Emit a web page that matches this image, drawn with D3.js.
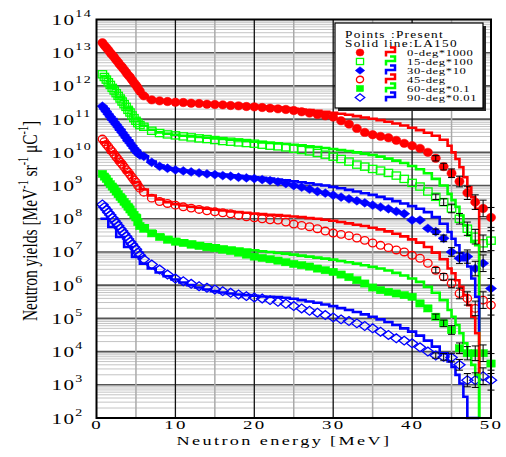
<!DOCTYPE html>
<html>
<head>
<meta charset="utf-8">
<script src="https://cdn.jsdelivr.net/npm/d3@7"></script>
<style>
body { margin: 0; background: #fff; }
svg text { font-family: "Liberation Serif", "Times New Roman", serif; fill: #000; }
</style>
</head>
<body>
<div id="canvas"></div>
<script>
// energies (MeV) of the measured points
const ptE = [0.75,1,1.25,1.5,1.75,2,2.25,2.5,2.75,3,3.25,3.5,3.75,4,4.25,4.5,4.75,5,5.25,5.5,
  6,7,8,9,10,11,12,13,14,15,16,17,18,19,20,21,22,23,24,25,26,27,28,29,30,
  31,32,33,34,35,36,37,38,39,40,41,42,43,44,45,46,47,48,49,50];

// measured yields, log10 values (already multiplied by the factor in the legend)
const deg0Pts = [13.30,13.22,13.15,13.08,13.00,12.93,12.86,12.78,12.71,12.63,12.56,12.49,12.41,12.33,12.26,12.18,12.10,12.02,11.93,11.84,
  11.70,11.58,11.55,11.53,11.51,11.50,11.48,11.47,11.45,11.44,11.43,11.41,11.40,11.38,11.37,11.35,11.33,11.31,11.29,11.26,
  11.22,11.18,11.14,11.10,11.06,10.95,10.85,10.72,10.60,10.53,10.48,10.44,10.36,10.27,10.20,10.12,10.00,9.82,9.57,9.37,
  9.12,8.78,8.50,8.31,8.04];
const deg15Pts = [12.35,12.27,12.19,12.11,12.03,11.94,11.86,11.78,11.70,11.62,11.53,11.45,11.37,11.28,11.20,11.11,11.03,10.95,10.88,10.82,
  10.77,10.65,10.58,10.54,10.51,10.48,10.45,10.42,10.40,10.37,10.34,10.32,10.30,10.28,10.26,10.23,10.20,10.18,10.15,10.11,
  10.07,10.03,9.98,9.93,9.87,9.80,9.72,9.63,9.57,9.50,9.45,9.38,9.30,9.20,9.08,8.97,8.82,8.66,8.50,8.31,
  8.00,7.70,7.46,7.26,7.34];
const deg30Pts = [11.39,11.31,11.23,11.15,11.07,10.99,10.91,10.84,10.76,10.68,10.60,10.52,10.44,10.36,10.28,10.20,10.12,10.04,9.97,9.92,
  9.88,9.70,9.58,9.52,9.47,9.44,9.41,9.38,9.35,9.33,9.30,9.28,9.25,9.23,9.21,9.18,9.15,9.11,9.06,9.00,
  8.95,8.89,8.82,8.77,8.71,8.65,8.60,8.54,8.48,8.41,8.35,8.30,8.22,8.15,7.96,7.96,7.71,7.61,7.41,7.00,
  6.81,6.86,6.50,6.66,5.90];
const deg45Pts = [10.40,10.32,10.24,10.17,10.09,10.02,9.94,9.86,9.79,9.71,9.64,9.56,9.48,9.41,9.33,9.25,9.17,9.10,9.00,8.92,
  8.80,8.62,8.52,8.46,8.41,8.36,8.32,8.28,8.24,8.21,8.18,8.15,8.10,8.06,8.03,8.00,7.97,7.96,7.90,7.84,
  7.80,7.76,7.70,7.63,7.57,7.53,7.49,7.42,7.35,7.27,7.20,7.13,7.06,7.00,6.90,6.81,6.66,6.45,6.25,6.05,
  5.75,5.60,5.30,5.55,5.40];
const deg60Pts = [9.35,9.27,9.20,9.12,9.04,8.97,8.89,8.82,8.74,8.66,8.59,8.51,8.44,8.36,8.28,8.20,8.12,8.04,7.90,7.78,
  7.70,7.56,7.45,7.37,7.31,7.27,7.22,7.18,7.14,7.11,7.07,7.03,6.98,6.92,6.86,6.82,6.78,6.74,6.69,6.64,
  6.60,6.56,6.50,6.45,6.40,6.32,6.24,6.15,6.05,5.93,5.85,5.80,5.75,5.70,5.65,5.45,5.30,5.05,4.85,4.65,
  4.10,3.95,3.95,3.95,3.64];
const deg90Pts = [8.43,8.35,8.27,8.19,8.11,8.03,7.95,7.87,7.79,7.71,7.63,7.55,7.47,7.39,7.31,7.23,7.15,7.08,6.98,6.90,
  6.78,6.62,6.47,6.32,6.20,6.12,6.04,5.97,5.92,5.87,5.82,5.77,5.72,5.67,5.63,5.60,5.55,5.50,5.44,5.37,
  5.30,5.23,5.17,5.10,5.03,4.97,4.92,4.85,4.77,4.70,4.60,4.50,4.40,4.33,4.25,4.13,4.00,3.88,3.84,3.82,
  3.60,3.14,3.14,3.26,3.14];

// error bars (log10 half-size) of the high-energy points
const errE = [43,44,45,46,47,48,49,50];
const errLog = [0.08,0.10,0.13,0.16,0.20,0.22,0.25,0.30];

// LA150 histogram bin edges (MeV)
const binE = [0.5,1.5,2.5,3.5,4.5,5.5,6.5,7.5,8.5,9.5,10.5,11.5,12.5,13.5,14.5,15.5,16.5,17.5,18.5,19.5,
  20.5,21.5,22.5,23.5,24.5,25.5,26.5,27.5,28.5,29.5,30.5,31.5,32.5,33.5,34.5,35.5,36.5,37.5,38.5,39.5,
  40.5,41.5,42.5,43.5,44.5,45,45.5,46,46.5,47,47.5,48,48.5];

// LA150 values per bin, log10
const deg0Calc = [13.20,12.93,12.63,12.33,12.02,11.70,11.58,11.55,11.53,11.51,11.50,11.49,11.48,11.47,11.46,11.45,11.44,11.43,11.41,11.40,
  11.38,11.37,11.35,11.33,11.31,11.29,11.27,11.25,11.22,11.19,11.16,11.13,11.09,11.05,11.01,10.97,10.92,10.87,10.81,10.74,
  10.67,10.59,10.50,10.38,10.20,10.00,9.80,9.55,9.25,8.95,8.65,8.30];
const deg15Calc = [12.30,11.98,11.66,11.33,11.00,10.80,10.68,10.60,10.56,10.53,10.50,10.48,10.46,10.44,10.42,10.40,10.38,10.36,10.34,10.32,
  10.30,10.28,10.27,10.25,10.23,10.21,10.18,10.16,10.13,10.10,10.07,10.04,10.00,9.96,9.92,9.87,9.81,9.75,9.68,9.59,
  9.49,9.37,9.20,9.00,8.75,8.56,8.36,8.10,7.80,7.50,7.30,7.20];
const deg30Calc = [11.30,11.00,10.68,10.36,10.05,9.88,9.72,9.60,9.53,9.48,9.45,9.42,9.40,9.37,9.35,9.33,9.31,9.29,9.27,9.25,
  9.23,9.21,9.18,9.16,9.13,9.10,9.07,9.03,9.00,8.96,8.92,8.87,8.82,8.77,8.72,8.66,8.60,8.53,8.46,8.38,
  8.30,8.20,8.05,7.85,7.60,7.40,7.20,6.96,6.75,6.56,6.20,5.65];
const deg45Calc = [10.30,10.00,9.70,9.40,9.10,8.88,8.70,8.58,8.50,8.44,8.40,8.36,8.33,8.30,8.27,8.25,8.22,8.20,8.18,8.16,
  8.14,8.12,8.11,8.09,8.07,8.05,8.02,8.00,7.97,7.94,7.90,7.86,7.82,7.78,7.73,7.68,7.62,7.55,7.47,7.38,
  7.28,7.15,6.98,6.78,6.50,6.36,6.15,5.95,5.70,5.40,5.05,4.55];
const deg60Calc = [9.30,9.00,8.70,8.40,8.10,7.80,7.62,7.52,7.45,7.39,7.35,7.31,7.27,7.23,7.20,7.16,7.13,7.10,7.07,7.05,
  7.02,7.00,6.97,6.95,6.92,6.89,6.86,6.83,6.80,6.77,6.73,6.69,6.65,6.60,6.55,6.50,6.44,6.37,6.29,6.20,
  6.10,5.95,5.77,5.55,5.25,5.05,4.80,4.55,4.25,3.95,3.60,3.30];
const deg90Calc = [8.00,7.75,7.45,7.15,6.85,6.65,6.50,6.38,6.27,6.17,6.08,6.00,5.93,5.87,5.82,5.78,5.75,5.72,5.70,5.68,
  5.66,5.65,5.64,5.62,5.59,5.55,5.51,5.47,5.42,5.37,5.31,5.25,5.19,5.12,5.05,4.97,4.89,4.80,4.70,4.60,
  4.48,4.33,4.15,3.95,3.70,3.54,3.30,3.04,2.64,1.50,1.50,1.50];
// value where each LA150 line ends after its last bin
const calcEnd = [3.3, 1.0, 4.6, 3.3, 1.0, 1.0];

const labels = ["0-deg*1000", "15-deg*100", "30-deg*10", "45-deg", "60-deg*0.1", "90-deg*0.01"];
const xTicks = [0, 10, 20, 30, 40, 50];
const yExp = [2,3,4,5,6,7,8,9,10,11,12,13,14];

const series = [
  {pts: deg0Pts,  calc: deg0Calc,  color: "#ff0000", shape: "circle",  filled: true},
  {pts: deg15Pts, calc: deg15Calc, color: "#00ff00", shape: "square",  filled: false},
  {pts: deg30Pts, calc: deg30Calc, color: "#0000ff", shape: "diamond", filled: true},
  {pts: deg45Pts, calc: deg45Calc, color: "#ff0000", shape: "circle",  filled: false},
  {pts: deg60Pts, calc: deg60Calc, color: "#00ff00", shape: "square",  filled: true},
  {pts: deg90Pts, calc: deg90Calc, color: "#0000ff", shape: "diamond", filled: false}
];

const width = 506, height = 457;
const margin = {top: 19.5, left: 96.5, bottom: 39, right: 15};
const iwidth = width - margin.left - margin.right;
const iheight = height - margin.top - margin.bottom;
const sx = 1.4; // the original figure is stretched horizontally

const svg = d3.select("#canvas").append("svg")
  .attr("width", width).attr("height", height);
const g = svg.append("g").attr("transform", `translate(${margin.left},${margin.top})`);

const x = d3.scaleLinear().domain([0, 50]).range([0, iwidth]);
const y = d3.scaleLog().domain([1e2, 1e14]).range([iheight, 0]).clamp(true);
const ly = v => y(Math.pow(10, v));

// grid
const minor = [];
yExp.slice(0, -1).forEach(n => { for (let k = 2; k <= 9; k++) minor.push(k * Math.pow(10, n)); });
g.selectAll(".hminor").data(minor).enter().append("line")
  .attr("x1", 0).attr("x2", iwidth).attr("y1", d => y(d)).attr("y2", d => y(d))
  .style("stroke", "#c4c4c4").style("stroke-width", 1);
g.selectAll(".hmajor").data(yExp.slice(1, -1)).enter().append("line")
  .attr("x1", 0).attr("x2", iwidth).attr("y1", d => y(Math.pow(10, d))).attr("y2", d => y(Math.pow(10, d)))
  .style("stroke", "#555").style("stroke-width", 1.6);
g.selectAll(".vminor").data([5, 15, 25, 35, 45]).enter().append("line")
  .attr("x1", d => x(d)).attr("x2", d => x(d)).attr("y1", 0).attr("y2", iheight)
  .style("stroke", "#aaa").style("stroke-width", 1.5);
g.selectAll(".vmajor").data([10, 20, 30, 40]).enter().append("line")
  .attr("x1", d => x(d)).attr("x2", d => x(d)).attr("y1", 0).attr("y2", iheight)
  .style("stroke", "#111").style("stroke-width", 1.3);

// markers
function drawMarker(sel, shape, filled, color, s) {
  let m;
  if (shape === "circle") {
    m = sel.append("ellipse").attr("rx", filled ? 4.6 * s : 4.2 * s).attr("ry", filled ? 4.2 * s : 3.8 * s);
  } else if (shape === "square") {
    m = sel.append("rect").attr("x", -4.2 * s).attr("y", -3.6 * s).attr("width", 8.4 * s).attr("height", 7.2 * s);
  } else {
    m = sel.append("path").attr("d", `M${-5.6 * s},0L0,${-4.4 * s}L${5.6 * s},0L0,${4.4 * s}Z`);
  }
  m.style("fill", filled ? color : "none").style("stroke", color).style("stroke-width", filled ? 0.5 : 1.3);
}

series.forEach(sr => {
  const pg = g.append("g");
  sr.pts.forEach((v, i) => {
    const mg = pg.append("g").attr("transform", `translate(${x(ptE[i])},${ly(v)})`);
    drawMarker(mg, sr.shape, sr.filled, sr.color, 1);
  });
});

// LA150 histograms
const line = d3.line().x(d => x(d[0])).y(d => ly(d[1]));
series.forEach((sr, si) => {
  const pts = [];
  sr.calc.forEach((v, i) => { pts.push([binE[i], v]); pts.push([binE[i + 1], v]); });
  pts.push([binE[binE.length - 1], calcEnd[si]]);
  g.append("path").attr("d", line(pts))
    .style("fill", "none").style("stroke", sr.color).style("stroke-width", 2.6)
    .style("stroke-linejoin", "miter");
});

// error bars
series.forEach(sr => {
  errE.forEach((e, j) => {
    const i = ptE.indexOf(e);
    const v = sr.pts[i];
    const y0 = ly(v + errLog[j]), y1 = ly(v - errLog[j]), xc = x(e);
    const eg = g.append("g").style("stroke", "#000").style("stroke-width", 1);
    eg.append("line").attr("x1", xc).attr("x2", xc).attr("y1", y0).attr("y2", y1);
    eg.append("line").attr("x1", xc - 3.5).attr("x2", xc + 3.5).attr("y1", y0).attr("y2", y0);
    eg.append("line").attr("x1", xc - 3.5).attr("x2", xc + 3.5).attr("y1", y1).attr("y2", y1);
  });
});

// frame
g.append("rect").attr("width", iwidth).attr("height", iheight)
  .style("fill", "none").style("stroke", "#000").style("stroke-width", 2);

// x axis
const xa = g.append("g").attr("transform", `translate(0,${iheight})`)
  .call(d3.axisBottom(x).tickValues(xTicks).tickSize(0).tickPadding(1));
xa.select(".domain").remove();
xa.selectAll("text")
  .attr("transform", `scale(${sx},1)`)
  .style("font-size", "13.5px").style("letter-spacing", "1.6px")
  .style("font-family", "'Liberation Serif', serif");

// y axis with 10^n labels
const ya = g.append("g").call(d3.axisLeft(y).tickValues(yExp.map(n => Math.pow(10, n))).tickSize(0).tickFormat(""));
ya.select(".domain").remove();
ya.selectAll(".tick").each(function (d) {
  const t = d3.select(this).append("text")
    .attr("transform", `translate(-45,5) scale(${sx},1)`)
    .style("font-size", "15px").style("letter-spacing", "1px").attr("text-anchor", "start");
  t.append("tspan").text("10");
  t.append("tspan").attr("dy", -8).attr("dx", 0).style("font-size", "10px")
    .text(Math.round(Math.log10(d)));
});

// axis titles
svg.append("text")
  .attr("transform", `translate(284,444.5) scale(${sx},1)`)
  .attr("text-anchor", "middle")
  .style("font-size", "13px").style("letter-spacing", "1.7px")
  .text("Neutron energy [MeV]");

const yt = svg.append("text")
  .attr("transform", `translate(36.5,221) rotate(-90) scale(1,${sx})`)
  .attr("text-anchor", "middle")
  .style("font-size", "15.5px");
yt.append("tspan").text("Neutron yields [MeV");
yt.append("tspan").attr("dy", -6).style("font-size", "10px").text("-1");
yt.append("tspan").attr("dy", 6).text(" sr");
yt.append("tspan").attr("dy", -6).style("font-size", "10px").text("-1");
yt.append("tspan").attr("dy", 6).text(" \u03bcC");
yt.append("tspan").attr("dy", -6).style("font-size", "10px").text("-1");
yt.append("tspan").attr("dy", 6).text("]");

// legend
const lg = svg.append("g").attr("transform", "translate(335,23)");
lg.append("rect").attr("x", 3).attr("y", 3).attr("width", 148).attr("height", 85).style("fill", "#222");
lg.append("rect").attr("width", 148).attr("height", 85)
  .style("fill", "#fff").style("stroke", "#000").style("stroke-width", 1.2);
const ltext = (tx, ty, s, fs, ls) => lg.append("text")
  .attr("transform", `translate(${tx},${ty}) scale(${sx},1)`)
  .style("font-size", fs + "px").style("letter-spacing", ls + "px").text(s);
ltext(10, 14.7, "Points", 9.5, 0.9);
ltext(56, 14.7, ":Present", 9.5, 0.9);
ltext(10, 23.5, "Solid line:LA150", 9.5, 0.9);
series.forEach((sr, i) => {
  const cy = 29.5 + i * 9;
  const mg = lg.append("g").attr("transform", `translate(25,${cy})`);
  drawMarker(mg, sr.shape, sr.filled, sr.color, 0.85);
  lg.append("path")
    .attr("d", `M55,${cy - 5}H60V${cy - 0.5}H51V${cy + 4}`)
    .style("fill", "none").style("stroke", sr.color).style("stroke-width", 2.5);
  ltext(72, cy + 3.2, labels[i], 9, 0.45);
});
</script>
</body>
</html>
